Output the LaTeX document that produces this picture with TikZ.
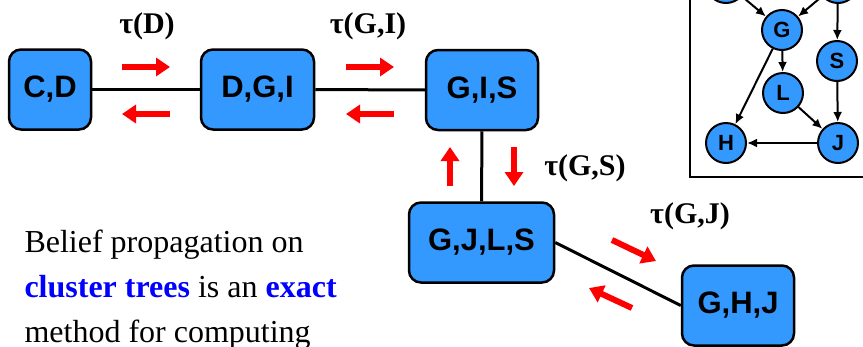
\documentclass[tikz,border=0pt]{standalone}
\usepackage{fontspec}
\setmainfont{Liberation Serif}
\setsansfont{Liberation Sans}
\usetikzlibrary{arrows.meta}

\definecolor{clusterblue}{RGB}{51,153,255}

\tikzset{
	cluster/.style={draw, line width=2.5pt, rounded corners=12pt, fill=clusterblue, minimum height=80pt, inner sep=0pt, font=\sffamily\bfseries\fontsize{31}{31}\selectfont},
	var/.style={circle, draw, line width=2pt, fill=clusterblue, minimum size=40pt, inner sep=0pt, font=\sffamily\bfseries\fontsize{22}{22}\selectfont},
	msg/.style={red, line width=6pt, -{Triangle[length=14pt,width=18pt]}},
	tau/.style={anchor=base, font=\bfseries\fontsize{30}{30}\selectfont},
	sepset/.style={line width=3pt},
	dep/.style={line width=2pt, -{Latex[length=10pt,width=9pt]}}
}

\begin{document}
\begin{tikzpicture}[x=1pt,y=-1pt]
		\useasboundingbox (0,0) rectangle (863,346);
		\clip (0,0) rectangle (863,346);
		
		% Cluster tree
		\node[cluster, minimum width=82pt] (cd) at (50,89.5) {C,D};
		\node[cluster, minimum width=113pt] (dgi) at (257.5,89.5) {D,G,I};
		\node[cluster, minimum width=112pt] (gis) at (482,90) {G,I,S};
		\node[cluster, minimum width=145pt] (gjls) at (481.5,242.5) {G,J,L,S};
		\node[cluster, minimum width=112pt] (ghj) at (738,305.5) {G,H,J};
		
		\draw[sepset] (cd) -- (dgi);
		\draw[sepset] (dgi) -- (gis);
		\draw[sepset] (gis) -- (gjls);
		\draw[sepset] (gjls.east) -- (ghj.west);
		
		% Messages
		\node[tau] (tauD) at (147,33) {τ(D)};
		\node[tau] (tauGI) at (368,33) {τ(G,I)};
		\node[tau] (tauGS) at (585,175) {τ(G,S)};
		\node[tau] (tauGJ) at (690,223) {τ(G,J)};
		
		\draw[msg] (122,67) -- (170,67);
		\draw[msg] (170,114) -- (122,114);
		\draw[msg] (346,67) -- (394,67);
		\draw[msg] (394,114) -- (346,114);
		\draw[msg] (450,186) -- (450,147);
		\draw[msg] (514,147) -- (514,186);
		\draw[msg] (612,240) -- (656,261);
		\draw[msg] (632,308) -- (589,288);
		
		% Bayes net (inset)
		\draw[line width=2.5pt] (690,-10) -- (690,177) -- (880,177);
		\node[var] (d) at (726,-17) {};
		\node[var] (i) at (838,-17) {};
		\node[var] (g) at (782,30) {G};
		\node[var] (s) at (837,61) {S};
		\node[var] (l) at (783,93) {L};
		\node[var] (h) at (726,143) {H};
		\node[var] (j) at (838,143) {J};
		\draw[dep] (d) -- (g);
		\draw[dep] (i) -- (g);
		\draw[dep] (i) -- (s);
		\draw[dep] (g) -- (l);
		\draw[dep] (g) -- (h);
		\draw[dep] (l) -- (j);
		\draw[dep] (s) -- (j);
		\draw[dep] (j) -- (h);
		
		% Text
		\node[anchor=base west, font=\fontsize{32}{32}\selectfont] (line1) at (21,252) {Belief propagation on};
		\node[anchor=base west, font=\fontsize{32}{32}\selectfont] (line2) at (21,297) {\textcolor{blue}{\bfseries cluster trees} is an \textcolor{blue}{\bfseries exact}};
		\node[anchor=base west, font=\fontsize{32}{32}\selectfont] (line3) at (21,342) {method for computing};
	\end{tikzpicture}
\end{document}
